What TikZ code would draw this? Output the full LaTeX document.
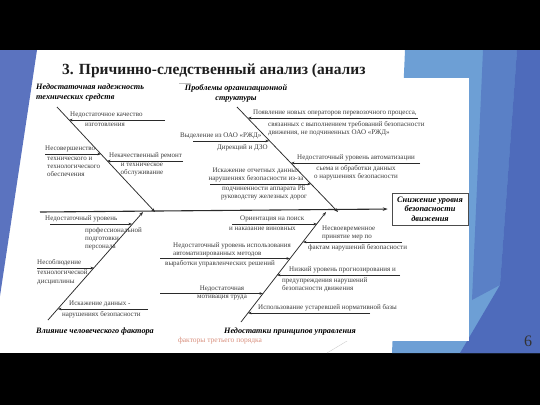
\documentclass[tikz,border=0pt]{standalone}
\usepackage{fontspec}
\setmainfont{Liberation Serif}
\usetikzlibrary{arrows.meta,calc}
\definecolor{bodytxt}{HTML}{3C3C3C}
\definecolor{linec}{HTML}{2A2A2A}
\definecolor{titlec}{HTML}{1E1E1E}
\definecolor{blueL}{HTML}{6D9FD5}
\definecolor{blueM}{HTML}{5A80C6}
\definecolor{blueD}{HTML}{4E6BBB}
\definecolor{blueLeft}{HTML}{5B73BF}
\definecolor{redc}{HTML}{D9907E}
\begin{document}
\begin{tikzpicture}[x=1pt,y=-1pt,
  txt/.style={font=\fontsize{7}{8.3}\selectfont, text=bodytxt, inner sep=0pt},
  cat/.style={font=\fontsize{8.2}{10}\selectfont\bfseries\itshape, text=black, inner sep=0pt},
  branch/.style={draw=linec, line width=0.5pt, -{Stealth[length=3.5pt,width=2.6pt]}},
  bone/.style={draw=linec, line width=0.75pt, -{Stealth[length=4pt,width=3pt]}},
  spine/.style={draw=linec, line width=1.1pt, -{Stealth[length=5pt,width=3.5pt]}},
  ]
\useasboundingbox (0,0) rectangle (540,405);
% slide background
\fill[black] (0,0) rectangle (540,405);
\fill[white] (0,50) rectangle (540,353);
\fill[blueLeft] (0,50) -- (37,50) -- (0,296) -- cycle;
\fill[blueL] (405,50) -- (540,50) -- (540,353) -- (392,353) -- cycle;
\fill[blueM] (483,50) -- (517,50) -- (500,285) -- (472,300) -- cycle;
\fill[blueD] (517,50) -- (540,50) -- (540,353) -- (460,353) -- (500,285) -- cycle;
\draw[gray!40, line width=0.4pt] (327,353) -- (352,338);
% title
\node[anchor=base west, font=\fontsize{15.5}{18}\selectfont\bfseries, text=titlec, inner sep=0pt] (title) at (62,74) {3. Причинно-следственный анализ (анализ};
% diagram image
\fill[white] (33,78) rectangle (469,341);
\draw[gray!50, line width=0.4pt] (179,83) -- (191,83);
% effect and spine
\node[draw=gray!60!black, line width=0.6pt, fill=white, minimum width=76pt, minimum height=32pt, align=center,
      font=\fontsize{8.3}{9.6}\selectfont\bfseries\itshape, inner sep=0pt] (effect) at (430,209) {Снижение уровня\\безопасности\\движения};
\coordinate (s0) at (40,212);
\draw[spine, shorten >=4pt] (s0) -- (effect.west);
% bones
\coordinate (b1s) at (57,107);  \coordinate (b1e) at (155,212);
\coordinate (b2s) at (237,107); \coordinate (b2e) at (338,212);
\coordinate (b3s) at (48,320);  \coordinate (b3e) at (143,212);
\coordinate (b4s) at (241,322); \coordinate (b4e) at (326,212);
\draw[bone] (b1s) -- (b1e);
\draw[bone] (b2s) -- (b2e);
\draw[bone] (b3s) -- (b3e);
\draw[bone] (b4s) -- (b4e);
% category labels
\node[cat, anchor=north west, align=left] (c1) at (36,84) {Недостаточная надежность\\технических средств};
\node[cat, anchor=north, align=center] (c2) at (236,84) {Проблемы организационной\\структуры};
\node[cat, anchor=west] (c3) at (36,332) {Влияние человеческого фактора};
\node[cat] (c4) at (290,332) {Недостатки принципов управления};
\node[font=\fontsize{7.5}{9}\selectfont, text=redc, inner sep=0pt] (red) at (220,341) {факторы третьего порядка};
% ---- top-left branches
\coordinate (p11) at (165,120); \coordinate (q11) at (69,120);
\draw[branch] (p11) -- (q11);
\node[txt, anchor=south west] (t11a) at (70,118.5) {Недостаточное качество};
\node[txt, anchor=north] (t11b) at (105,122.5) {изготовления};
\coordinate (p12) at (45,154); \coordinate (q12) at (101,154);
\draw[branch] (p12) -- (q12);
\node[txt, anchor=south west] (t12a) at (45,152.5) {Несовершенство};
\node[txt, anchor=north west, align=left] (t12b) at (47,156.5) {технического и\\технологического\\обеспечения};
\coordinate (p13) at (183,161); \coordinate (q13) at (107,161);
\draw[branch] (p13) -- (q13);
\node[txt, anchor=south west] (t13a) at (109,159.5) {Некачественный ремонт};
\node[txt, anchor=north, align=center] (t13b) at (142,162.5) {и техническое\\обслуживание};
% ---- top-middle branches
\coordinate (p21) at (418,118); \coordinate (q21) at (248,118);
\draw[branch] (p21) -- (q21);
\node[txt, anchor=south west] (t21a) at (253,116.5) {Появление новых операторов перевозочного процесса,};
\node[txt, anchor=north west, align=left] (t21b) at (268,121) {связанных с выполнением требований безопасности\\движения, не подчиненных ОАО «РЖД»};
\coordinate (p22) at (193,141); \coordinate (q22) at (269,141);
\draw[branch] (p22) -- (q22);
\node[txt, anchor=south west] (t22a) at (180,139.5) {Выделение из ОАО «РЖД»};
\node[txt, anchor=north west] (t22b) at (217,145) {Дирекций и ДЗО};
\coordinate (p23) at (420,163); \coordinate (q23) at (291,163);
\draw[branch] (p23) -- (q23);
\node[txt, anchor=south west] (t23a) at (297,161.5) {Недостаточный уровень автоматизации};
\node[txt, anchor=north, align=center] (t23b) at (356,165) {сьема и обработки данных\\о нарушениях безопасности};
\coordinate (p24) at (210,184); \coordinate (q24) at (311,184);
\draw[branch] (p24) -- (q24);
\node[txt, anchor=south, align=center] (t24a) at (256,182.5) {Искажение отчетных данных\\нарушениях безопасности из-за};
\node[txt, anchor=north, align=center] (t24b) at (264,185.5) {подчиненности аппарата РБ\\руководству железных дорог};
% ---- bottom-left branches
\coordinate (p31) at (50,224); \coordinate (q31) at (132,224);
\draw[branch] (p31) -- (q31);
\node[txt, anchor=south west] (t31a) at (45,222.5) {Недостаточный уровень};
\node[txt, anchor=north west, align=left] (t31b) at (85,227) {профессиональной\\подготовки\\персонала};
\coordinate (p32) at (37,268); \coordinate (q32) at (94,268);
\draw[branch] (p32) -- (q32);
\node[txt, anchor=south west] (t32a) at (37,266.5) {Несоблюдение};
\node[txt, anchor=north west, align=left] (t32b) at (37,270) {технологической\\дисциплины};
\coordinate (p33) at (148,309); \coordinate (q33) at (58,309);
\draw[branch] (p33) -- (q33);
\node[txt, anchor=south west] (t33a) at (69,307.5) {Искажение данных -};
\node[txt, anchor=north west] (t33b) at (62,311) {нарушениях безопасности};
% ---- bottom-middle branches
\coordinate (p41) at (232,224); \coordinate (q41) at (317,224);
\draw[branch] (p41) -- (q41);
\node[txt, anchor=south west] (t41a) at (240,222.5) {Ориентация на поиск};
\node[txt, anchor=north west] (t41b) at (229,227) {и наказание виновных};
\coordinate (p42) at (402,242); \coordinate (q42) at (303,242);
\draw[branch] (p42) -- (q42);
\node[txt, anchor=south west, align=left] (t42a) at (322,240.5) {Несвоевременное\\принятие мер по};
\node[txt, anchor=north west] (t42b) at (308,244.5) {фактам нарушений безопасности};
\coordinate (p43) at (160,258.5); \coordinate (q43) at (290,258.5);
\draw[branch] (p43) -- (q43);
\node[txt, anchor=south west, align=left] (t43a) at (173,257) {Недостаточный уровень использования\\автоматизированных методов};
\node[txt, anchor=north west] (t43b) at (165,260) {выработки управленческих решений};
\coordinate (p44) at (400,275); \coordinate (q44) at (277,275);
\draw[branch] (p44) -- (q44);
\node[txt, anchor=south west] (t44a) at (289,273.5) {Низкий уровень прогнозирования и};
\node[txt, anchor=north west, align=left] (t44b) at (282,277.5) {предупреждения нарушений\\безопасности движения};
\coordinate (p45) at (160,293.5); \coordinate (q45) at (263,293.5);
\draw[branch] (p45) -- (q45);
\node[txt, anchor=south] (t45a) at (222,292) {Недостаточная};
\node[txt, anchor=north] (t45b) at (222,295) {мотивация труда};
\coordinate (p46) at (370,313); \coordinate (q46) at (248,313);
\draw[branch] (p46) -- (q46);
\node[txt, anchor=south west] (t46a) at (258,311.5) {Использование устаревшей нормативной базы};
% page number
\node[font=\fontsize{16}{18}\selectfont, text=black!80, inner sep=0pt] (pnum) at (528,341) {6};
\end{tikzpicture}
\end{document}
